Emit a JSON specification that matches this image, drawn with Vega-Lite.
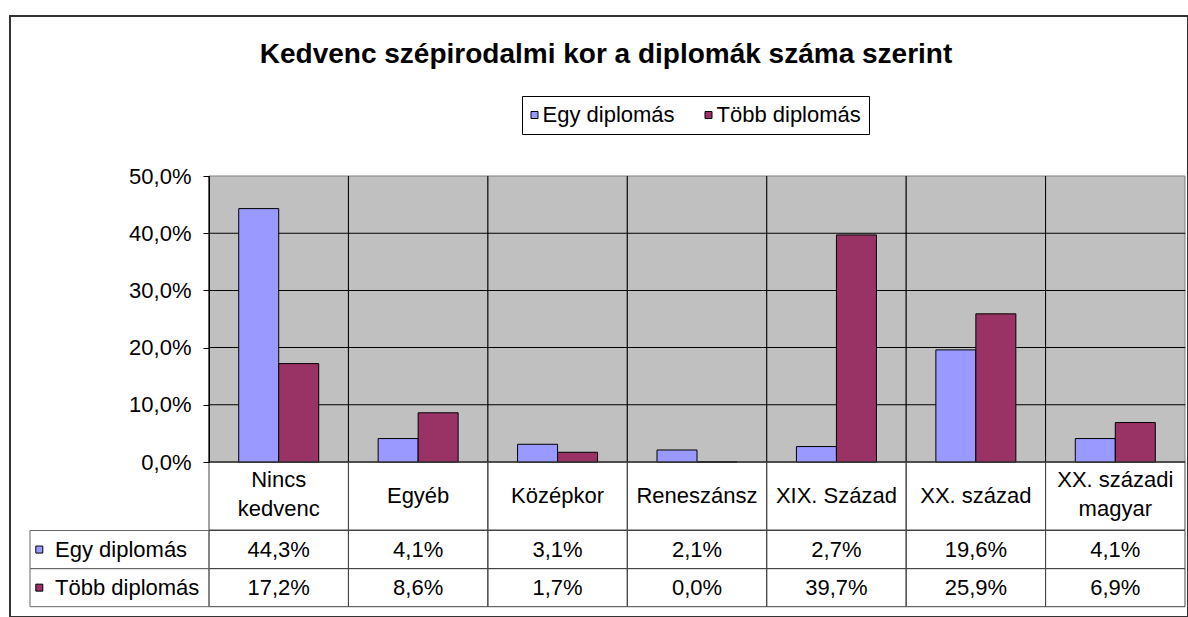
{
  "$schema": "https://vega.github.io/schema/vega-lite/v6.json",
  "width": 1178,
  "height": 601,
  "autosize": "none",
  "padding": {"left": 10, "top": 16, "right": 0, "bottom": 0},
  "background": "white",
  "config": {
    "view": {"stroke": "#333333", "strokeWidth": 2},
    "font": "Liberation Sans",
    "text": {"font": "Liberation Sans", "fontSize": 22, "color": "black", "lineBreak": "\n", "lineHeight": 29},
    "locale": {"number": {"decimal": ",", "thousands": " ", "grouping": [3], "currency": ["", " Ft"]}}
  },
  "title": {
    "text": "Kedvenc szépirodalmi kor a diplomák száma szerint",
    "font": "Liberation Sans",
    "fontSize": 28,
    "fontWeight": "bold",
    "color": "black",
    "anchor": "middle",
    "frame": "group",
    "offset": -53,
    "dx": 7
  },
  "datasets": {
    "bars": [
      {"cat": "Nincs\nkedvenc", "series": "Egy diplomás", "v": 0.443},
      {"cat": "Egyéb", "series": "Egy diplomás", "v": 0.041},
      {"cat": "Középkor", "series": "Egy diplomás", "v": 0.031},
      {"cat": "Reneszánsz", "series": "Egy diplomás", "v": 0.021},
      {"cat": "XIX. Század", "series": "Egy diplomás", "v": 0.027},
      {"cat": "XX. század", "series": "Egy diplomás", "v": 0.196},
      {"cat": "XX. századi\nmagyar", "series": "Egy diplomás", "v": 0.041},
      {"cat": "Nincs\nkedvenc", "series": "Több diplomás", "v": 0.172},
      {"cat": "Egyéb", "series": "Több diplomás", "v": 0.086},
      {"cat": "Középkor", "series": "Több diplomás", "v": 0.017},
      {"cat": "Reneszánsz", "series": "Több diplomás", "v": 0.0},
      {"cat": "XIX. Század", "series": "Több diplomás", "v": 0.397},
      {"cat": "XX. század", "series": "Több diplomás", "v": 0.259},
      {"cat": "XX. századi\nmagyar", "series": "Több diplomás", "v": 0.069}
    ],
    "grid": [
      {"v": 0, "cat": ["Nincs\nkedvenc", "Egyéb", "Középkor", "Reneszánsz", "XIX. Század", "XX. század", "XX. századi\nmagyar"]},
      {"v": 0.1, "cat": ["Nincs\nkedvenc", "Egyéb", "Középkor", "Reneszánsz", "XIX. Század", "XX. század", "XX. századi\nmagyar"]},
      {"v": 0.2, "cat": ["Nincs\nkedvenc", "Egyéb", "Középkor", "Reneszánsz", "XIX. Század", "XX. század", "XX. századi\nmagyar"]},
      {"v": 0.3, "cat": ["Nincs\nkedvenc", "Egyéb", "Középkor", "Reneszánsz", "XIX. Század", "XX. század", "XX. századi\nmagyar"]},
      {"v": 0.4, "cat": ["Nincs\nkedvenc", "Egyéb", "Középkor", "Reneszánsz", "XIX. Század", "XX. század", "XX. századi\nmagyar"]}
    ]
  },
  "resolve": {"scale": {"x": "independent", "y": "independent"}},
  "layer": [
    {
      "data": {"name": "bars"},
      "layer": [
        {
          "transform": [{"filter": "datum.series === 'Egy diplomás'"}],
          "mark": {"type": "rect", "fill": "#C0C0C0", "stroke": "#808080", "strokeWidth": 1},
          "encoding": {
            "x": {"field": "cat", "type": "nominal", "axis": null,
                  "scale": {"domain": ["Nincs\nkedvenc", "Egyéb", "Középkor", "Reneszánsz", "XIX. Század", "XX. század", "XX. századi\nmagyar"], "range": [199, 1175], "paddingInner": 0, "paddingOuter": 0}},
            "y": {"datum": 0, "type": "quantitative",
                  "axis": {"orient": "left", "values": [0, 0.1, 0.2, 0.3, 0.4, 0.5], "format": ".1%", "offset": -199, "grid": false, "title": null,
                           "domainColor": "black", "domainWidth": 1, "tickColor": "black", "tickWidth": 1, "tickSize": 6,
                           "labelFont": "Liberation Sans", "labelFontSize": 22, "labelColor": "black", "labelPadding": 12, "zindex": 1},
                  "scale": {"domain": [0, 0.5], "range": [446, 160], "nice": false, "zero": true}},
            "y2": {"datum": 0.5}
          }
        },
        {
          "data": {"name": "grid"},
          "transform": [{"flatten": ["cat"]}],
          "mark": {"type": "tick", "color": "black", "thickness": 1, "size": 140, "opacity": 1},
          "encoding": {
            "x": {"field": "cat", "type": "nominal", "axis": null},
            "y": {"field": "v", "type": "quantitative"}
          }
        },
        {
          "transform": [{"filter": "datum.series === 'Egy diplomás'"}],
          "mark": {"type": "rule", "color": "black", "strokeWidth": 1},
          "encoding": {
            "x": {"field": "cat", "type": "nominal", "bandPosition": 0, "axis": null},
            "y": {"datum": 0, "type": "quantitative"},
            "y2": {"datum": 0.5}
          }
        },
        {
          "mark": {"type": "bar", "stroke": "black", "strokeWidth": 1, "opacity": 1},
          "encoding": {
            "x": {"field": "cat", "type": "nominal", "axis": null},
            "xOffset": {"field": "series", "type": "nominal", "scale": {"paddingOuter": 0.743, "paddingInner": 0}},
            "y": {"field": "v", "type": "quantitative"},
            "color": {"field": "series", "type": "nominal",
                      "scale": {"domain": ["Egy diplomás", "Több diplomás"], "range": ["#9999FF", "#993366"]},
                      "legend": {"orient": "none", "legendX": 512, "legendY": 80, "direction": "horizontal", "title": null,
                                 "strokeColor": "black", "fillColor": "white", "padding": 8,
                                 "symbolType": "square", "symbolSize": 49, "symbolStrokeColor": "black", "symbolStrokeWidth": 1, "symbolOpacity": 1,
                                 "symbolOffset": -6.5,
                                 "labelFont": "Liberation Sans", "labelFontSize": 22, "labelColor": "black", "labelOffset": -3, "columnPadding": 28}}
          }
        }
      ]
    },
    {
      "data": {"name": "bars"},
      "transform": [{"filter": "datum.series === 'Egy diplomás'"}],
      "encoding": {
        "x": {"field": "cat", "type": "nominal", "axis": null,
              "scale": {"domain": ["Nincs\nkedvenc", "Egyéb", "Középkor", "Reneszánsz", "XIX. Század", "XX. század", "XX. századi\nmagyar"], "range": [199, 1175], "paddingInner": 0, "paddingOuter": 0}},
        "y": {"datum": "label", "type": "nominal", "axis": null,
              "scale": {"domain": ["label"], "range": [446, 514], "paddingInner": 0, "paddingOuter": 0}}
      },
      "layer": [
        {"mark": {"type": "rect", "fill": "transparent", "stroke": "#444444", "strokeWidth": 1}},
        {"transform": [{"filter": "indexof(datum.cat, '\\n') < 0"}],
         "mark": {"type": "text", "baseline": "middle", "align": "center"}, "encoding": {"text": {"field": "cat"}}},
        {"transform": [{"filter": "indexof(datum.cat, '\\n') >= 0"}],
         "mark": {"type": "text", "baseline": "middle", "align": "center", "dy": -16}, "encoding": {"text": {"field": "cat"}}}
      ]
    },
    {
      "data": {"name": "bars"},
      "encoding": {
        "x": {"field": "cat", "type": "nominal", "axis": null,
              "scale": {"domain": ["Nincs\nkedvenc", "Egyéb", "Középkor", "Reneszánsz", "XIX. Század", "XX. század", "XX. századi\nmagyar"], "range": [199, 1175], "paddingInner": 0, "paddingOuter": 0}},
        "y": {"field": "series", "type": "nominal", "axis": null,
              "scale": {"domain": ["Egy diplomás", "Több diplomás"], "range": [514.5, 590.7], "paddingInner": 0, "paddingOuter": 0}}
      },
      "layer": [
        {"mark": {"type": "rect", "fill": "transparent", "stroke": "#444444", "strokeWidth": 1}},
        {"mark": {"type": "text", "baseline": "middle", "align": "center"}, "encoding": {"text": {"field": "v", "type": "quantitative", "format": ".1%"}}}
      ]
    },
    {
      "data": {"name": "bars"},
      "transform": [{"aggregate": [{"op": "count", "as": "n"}], "groupby": ["series"]}],
      "encoding": {
        "y": {"field": "series", "type": "nominal", "axis": null,
              "scale": {"domain": ["Egy diplomás", "Több diplomás"], "range": [514.5, 590.7], "paddingInner": 0, "paddingOuter": 0}}
      },
      "layer": [
        {"mark": {"type": "rect", "fill": "transparent", "stroke": "#666666", "strokeWidth": 1},
         "encoding": {"x": {"datum": "hdr", "type": "nominal", "axis": null, "scale": {"domain": ["hdr"], "range": [20, 199], "paddingInner": 0, "paddingOuter": 0}}}},
        {"mark": {"type": "square", "size": 49, "filled": true, "stroke": "black", "strokeWidth": 1, "opacity": 1},
         "encoding": {"x": {"datum": "hdr", "type": "nominal", "bandPosition": 0.052, "axis": null},
                      "color": {"field": "series", "type": "nominal"}}},
        {"mark": {"type": "text", "baseline": "middle", "align": "left"},
         "encoding": {"x": {"datum": "hdr", "type": "nominal", "bandPosition": 0.14, "axis": null},
                      "text": {"field": "series"}}}
      ]
    }
  ]
}
